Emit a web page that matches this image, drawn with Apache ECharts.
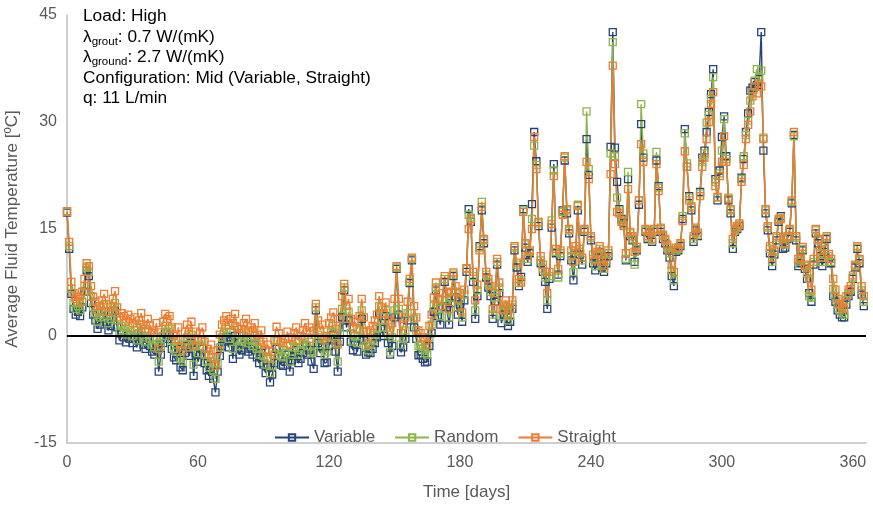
<!DOCTYPE html>
<html>
<head>
<meta charset="utf-8">
<script src="https://cdn.jsdelivr.net/npm/echarts@6/dist/echarts.min.js"></script>
<style>
  html, body { margin: 0; padding: 0; background: #fff; }
  #chart { width: 873px; height: 505px; }
</style>
</head>
<body>
<div id="chart"></div>
<script>
// daily average fluid temperature, day 0..365
const variable = [
  17.3, 12.2, 5.9, 3.8, 3.0, 3.4, 2.8, 4.0, 6.2, 9.2,
  8.4, 4.6, 3.0, 2.2, 1.0, 1.6, 2.4, 3.4, 2.0, 0.8,
  1.4, 2.6, 3.6, 1.2, -0.6, 0.4, -0.2, -0.9, 0.2, -0.4,
  -1.0, -0.2, -1.6, -0.6, 0.6, -1.2, -1.8, -0.4, -1.4, -2.2,
  -2.6, -1.2, -5.0, -2.6, -1.0, 0.4, -0.4, 0.0, -1.8, -3.0,
  -3.4, -1.8, -4.4, -4.8, -2.4, -1.4, -2.8, -1.0, -5.6, -2.4,
  -3.6, -2.6, -1.8, -3.8, -4.8, -5.6, -4.2, -6.0, -7.9, -5.0,
  -2.8, -1.4, -0.8, -0.2, -1.6, -0.6, -3.2, 0.0, -1.8, -2.6,
  -2.0, -1.2, -0.6, -2.2, -1.8, -2.6, -1.2, -3.0, -3.8, -2.4,
  -4.0, -5.2, -4.4, -6.5, -5.4, -3.8, -1.8, -2.8, -4.0, -4.2,
  -3.6, -2.6, -5.0, -3.4, -2.8, -2.0, -3.8, -3.2, -2.4, -1.4,
  -2.6, -2.0, -3.6, -4.6, 3.6, -1.0, -2.4, -1.6, -3.8, -3.7,
  -1.4, -0.6, 0.2, -2.2, -5.0, -0.8, 2.6, 6.4, 1.2, 2.2,
  -0.8, -2.0, -1.2, -2.2, -0.4, 2.4, -0.6, -2.6, -2.3, -2.4,
  -1.8, -1.0, -0.2, 3.2, 1.0, 0.0, 2.8, -1.0, -2.6, -1.4,
  2.6, 9.4, 3.0, -2.3, -1.6, -0.4, 2.2, 7.4, 10.6, 1.2,
  -0.4, -2.7, -2.6, -3.2, -3.7, -3.6, -1.4, 0.4, 3.4, 6.4,
  2.8, 1.6, 4.2, 7.6, 4.0, 1.6, 4.6, 8.4, 5.4, 3.0,
  4.4, 2.0, 5.0, 9.0, 17.8, 16.0, 7.6, 2.4, 5.6, 12.6,
  17.6, 13.0, 8.2, 6.8, 5.6, 2.4, 4.8, 10.0, 6.0, 1.8,
  3.0, 3.6, 1.4, 2.0, 3.8, 12.0, 9.6, 7.0, 8.3, 17.8,
  12.4, 10.4, 11.6, 18.5, 28.6, 24.5, 15.4, 10.2, 9.0, 7.6,
  3.8, 8.0, 15.2, 24.1, 11.6, 8.6, 11.2, 17.6, 24.6, 17.2,
  14.4, 10.6, 7.8, 11.4, 17.6, 11.4, 10.0, 14.6, 27.6, 22.6,
  13.4, 10.2, 9.2, 11.0, 11.8, 9.6, 9.0, 10.2, 11.2, 26.5,
  42.6, 26.4, 21.6, 17.8, 16.4, 15.8, 10.6, 22.0, 14.0, 13.4,
  10.4, 12.0, 18.4, 29.7, 25.0, 14.6, 13.6, 14.4, 13.2, 14.6,
  24.6, 21.0, 14.6, 13.6, 13.0, 12.0, 11.0, 8.4, 7.0, 11.8,
  12.0, 12.6, 16.4, 29.0, 23.7, 19.6, 17.6, 13.2, 14.8, 14.0,
  20.2, 25.0, 26.0, 28.6, 31.4, 33.9, 37.4, 22.0, 19.0, 23.2,
  27.9, 30.8, 25.2, 19.0, 17.2, 12.2, 14.6, 15.0, 15.4, 22.2,
  24.8, 28.6, 31.2, 34.4, 34.8, 35.6, 35.2, 36.0, 42.6, 26.0,
  17.2, 14.8, 11.6, 9.8, 11.4, 13.4, 16.0, 16.8, 12.2, 12.4,
  13.6, 14.6, 18.6, 28.2, 13.4, 9.8, 10.2, 12.0, 9.4, 8.0,
  6.0, 4.8, 10.0, 14.4, 13.0, 11.2, 9.8, 11.8, 13.6, 10.8,
  10.2, 5.6, 4.8, 3.6, 3.0, 2.6, 2.6, 4.4, 5.6, 6.2,
  8.0, 9.6, 12.2, 10.2, 5.8, 4.2
];

const random = [
  17.4, 12.6, 6.6, 4.6, 3.8, 4.2, 3.6, 4.8, 7.0, 9.6,
  9.0, 5.6, 4.0, 3.2, 2.0, 2.6, 3.4, 4.4, 3.0, 1.8,
  2.4, 3.6, 4.6, 2.2, 0.6, 1.4, 0.8, 0.2, 1.2, 0.6,
  0.0, 0.8, -0.6, 0.4, 1.6, -0.2, -0.8, 0.6, -0.4, -1.2,
  -1.6, -0.2, -3.6, -1.4, 0.0, 1.4, 0.6, 1.0, -0.6, -1.8,
  -2.2, -0.6, -3.2, -3.6, -1.2, -0.2, -1.6, 0.2, -4.0, -1.2,
  -2.4, -1.4, -0.6, -2.6, -3.6, -4.4, -3.0, -4.8, -6.0, -3.8,
  -1.6, -0.2, 0.4, 1.0, -0.4, 0.6, -1.8, 1.4, -0.6, -1.4,
  -0.8, 0.0, 0.6, -1.0, -0.6, -1.4, 0.0, -1.8, -2.6, -1.2,
  -2.8, -4.0, -3.2, -5.2, -4.2, -2.6, -0.6, -1.6, -2.8, -3.0,
  -2.4, -1.4, -3.6, -2.2, -1.6, -0.8, -2.6, -2.0, -1.2, -0.2,
  -1.4, -0.8, -2.4, -2.2, 4.0, 0.2, -1.2, -0.4, -2.6, -2.2,
  -0.2, 0.6, 1.4, -1.0, -3.6, 0.4, 3.8, 6.8, 2.4, 3.4,
  0.4, -0.8, 0.0, -1.0, 0.8, 3.6, 0.6, -1.4, -2.0, -1.2,
  -0.6, 0.2, 1.0, 4.2, 2.2, 1.2, 3.6, 0.2, -2.3, -0.2,
  3.6, 9.6, 3.8, -1.2, -0.4, 0.8, 3.2, 7.6, 10.8, 2.4,
  0.8, -1.4, -1.2, -1.8, -2.4, -2.6, -0.2, 1.6, 4.2, 6.8,
  3.8, 2.8, 5.0, 8.0, 5.0, 2.6, 5.4, 8.6, 6.2, 4.0,
  5.2, 2.6, 5.8, 9.4, 17.0, 16.6, 8.4, 3.6, 6.4, 12.4,
  18.8, 13.4, 8.6, 7.4, 6.2, 3.0, 5.4, 10.4, 6.8, 2.8,
  3.6, 4.2, 2.2, 2.8, 4.4, 12.4, 10.0, 7.4, 7.8, 17.6,
  12.8, 10.8, 11.8, 16.4, 26.7, 24.0, 15.8, 10.6, 9.4, 8.2,
  5.0, 8.4, 16.2, 23.2, 11.8, 8.2, 11.6, 17.4, 25.0, 17.6,
  14.8, 11.2, 9.0, 12.0, 18.4, 11.8, 10.6, 14.8, 31.5, 23.4,
  13.8, 10.8, 9.8, 11.4, 12.2, 10.0, 9.4, 10.6, 11.6, 25.6,
  41.2, 25.2, 19.4, 17.6, 16.2, 15.6, 10.8, 23.0, 14.4, 13.6,
  10.0, 12.2, 19.0, 32.5, 25.6, 14.8, 13.8, 14.6, 13.4, 14.8,
  25.8, 20.8, 15.2, 14.0, 13.4, 12.4, 11.6, 9.2, 7.8, 12.0,
  12.2, 12.8, 16.8, 28.4, 24.2, 19.4, 18.2, 13.6, 15.0, 14.2,
  20.0, 24.4, 25.6, 29.9, 31.0, 33.2, 36.3, 21.6, 19.4, 22.8,
  26.0, 30.4, 24.8, 19.4, 17.6, 13.0, 14.8, 15.2, 15.6, 22.0,
  25.2, 28.2, 30.2, 33.0, 34.2, 35.8, 37.4, 36.2, 37.2, 27.8,
  17.6, 15.2, 12.2, 10.4, 11.8, 13.8, 16.2, 16.6, 13.0, 12.8,
  13.8, 14.8, 18.8, 28.0, 13.8, 10.4, 10.6, 12.2, 9.8, 8.8,
  5.6, 5.4, 10.4, 14.8, 13.4, 11.6, 10.4, 12.2, 13.8, 11.2,
  10.4, 6.6, 5.6, 4.4, 3.6, 3.2, 3.0, 5.0, 6.0, 6.6,
  8.2, 9.8, 12.4, 10.6, 6.4, 4.8
];

const straight = [
  17.5, 13.2, 7.6, 6.0, 5.2, 5.5, 4.8, 6.2, 8.0, 10.2,
  9.8, 7.0, 5.5, 4.8, 3.6, 4.2, 5.0, 5.9, 4.5, 3.4,
  4.0, 5.2, 6.3, 4.0, 2.6, 3.2, 2.8, 2.0, 3.0, 2.4,
  1.8, 2.6, 1.2, 2.2, 3.2, 1.6, 1.0, 2.4, 1.5, 0.8,
  0.4, 1.8, -1.8, 0.5, 2.0, 3.1, 2.4, 2.8, 1.2, 0.0,
  -0.4, 1.2, -1.5, -2.0, 0.6, 1.6, 0.2, 2.0, -1.4, 0.6,
  -0.6, 0.4, 1.2, -0.8, -1.8, -2.6, -1.2, -3.0, -4.2, -2.0,
  0.2, 1.6, 2.2, 2.8, 1.5, 2.4, 1.8, 3.1, 1.2, 0.4,
  1.0, 1.8, 2.4, 0.8, 1.2, 0.6, 1.8, 0.2, -0.6, 0.8,
  -0.8, -2.0, -1.2, -3.2, -2.2, -0.6, 1.3, 0.4, -0.8, -1.0,
  -0.4, 0.6, -1.2, -0.2, 0.4, 1.2, -0.6, 0.0, 0.8, 1.8,
  0.6, 1.2, -0.4, 0.7, 4.5, 2.2, 0.8, 1.6, -0.6, 0.0,
  1.8, 2.6, 3.3, 1.0, -1.2, 2.4, 5.6, 7.3, 4.2, 5.2,
  2.4, 1.2, 2.0, 1.0, 2.8, 5.2, 2.6, 0.6, -1.0, 0.8,
  1.4, 2.2, 3.0, 5.6, 4.0, 3.2, 4.7, 2.2, 0.6, 1.8,
  5.2, 9.8, 5.2, 0.4, 1.4, 2.6, 4.8, 8.0, 11.0, 4.2,
  2.6, 0.8, 0.4, -0.2, -0.6, -1.2, 1.4, 3.0, 5.4, 7.5,
  5.2, 4.2, 6.0, 8.4, 6.0, 3.8, 6.2, 8.9, 7.0, 5.2,
  6.0, 3.3, 6.5, 9.5, 15.0, 16.4, 9.0, 5.0, 7.2, 12.0,
  18.1, 13.6, 9.0, 8.0, 7.0, 3.8, 6.0, 10.8, 7.5, 3.8,
  4.4, 5.0, 3.0, 3.8, 5.0, 12.6, 10.3, 8.0, 7.5, 17.4,
  13.0, 11.2, 12.0, 15.0, 27.9, 23.4, 16.0, 11.2, 10.0, 9.0,
  6.0, 9.0, 15.7, 22.4, 12.2, 9.4, 12.0, 17.0, 25.2, 17.8,
  15.0, 12.0, 10.4, 12.6, 18.2, 12.2, 11.0, 15.0, 24.4, 22.0,
  14.0, 11.4, 10.6, 11.8, 12.6, 10.4, 9.8, 11.0, 12.0, 22.7,
  37.9, 24.1, 17.4, 17.2, 16.0, 15.4, 11.6, 20.6, 14.6, 14.0,
  11.8, 12.5, 19.0, 26.9, 24.4, 15.0, 14.0, 14.6, 13.6, 15.0,
  24.1, 20.3, 15.0, 14.2, 13.6, 12.8, 12.0, 10.0, 9.0, 12.4,
  12.4, 13.0, 16.1, 25.9, 23.7, 19.0, 18.0, 14.0, 15.2, 14.5,
  19.6, 23.7, 25.0, 27.6, 30.0, 32.5, 34.2, 21.0, 19.5, 22.4,
  24.4, 28.0, 24.4, 19.2, 17.8, 13.6, 15.0, 15.4, 15.8, 21.6,
  24.0, 27.6, 29.6, 31.5, 33.6, 35.0, 34.0, 35.4, 35.0, 27.6,
  17.8, 15.4, 12.6, 11.0, 12.0, 14.0, 16.4, 16.4, 13.6, 13.0,
  14.0, 15.0, 19.0, 28.6, 14.0, 10.8, 11.0, 12.5, 10.0, 9.5,
  8.0, 6.5, 10.8, 15.0, 13.6, 12.0, 11.0, 12.5, 14.0, 11.5,
  10.8, 8.0, 6.5, 5.2, 4.5, 4.0, 3.8, 5.6, 6.5, 7.0,
  8.5, 10.0, 12.6, 10.8, 7.0, 5.6
];

const seriesNames = ['Variable', 'Random', 'Straight'];
const seriesColors = ['#264478', '#8db54a', '#ed7d31'];
const xTicks = [0, 60, 120, 180, 240, 300, 360];

const chart = echarts.init(document.getElementById('chart'));
const font = '"Liberation Sans", Arial, sans-serif';

function mkSeries(name, values, color, extra) {
  return Object.assign({
    name: name,
    type: 'line',
    data: values.map((v, i) => [i, v]),
    symbol: 'rect',
    symbolSize: 7,
    showSymbol: true,
    itemStyle: { color: 'rgba(255,255,255,0)', borderColor: color, borderWidth: 1.3 },
    lineStyle: { color: color, width: 1.4 },
  }, extra || {});
}

const option = {
  animation: false,
  textStyle: { fontFamily: font },
  grid: { left: 67, right: 7, top: 15, bottom: 62, containLabel: false, outerBoundsMode: 'none' },
  legend: {
    data: seriesNames,
    top: 424,
    left: 269,
    itemWidth: 34,
    itemHeight: 8,
    itemGap: 19,
    textStyle: { fontSize: 17, color: '#595959', fontFamily: font }
  },
  xAxis: {
    type: 'value',
    min: 0,
    max: 366,
    interval: 60,
    name: 'Time [days]',
    nameLocation: 'middle',
    nameGap: 41,
    nameTextStyle: { fontSize: 17, color: '#595959' },
    axisLine: { show: true, onZero: false, lineStyle: { color: '#bfbfbf', width: 1.5 } },
    axisTick: { show: false },
    splitLine: { show: false },
    axisLabel: {
      fontSize: 16, color: '#595959', margin: 12,
      formatter: v => (xTicks.indexOf(v) >= 0 ? String(v) : '')
    }
  },
  yAxis: {
    type: 'value',
    min: -15,
    max: 45,
    interval: 15,
    name: 'Average Fluid Temperature [ºC]',
    nameLocation: 'middle',
    nameGap: 46,
    nameTextStyle: { fontSize: 17, color: '#595959' },
    axisLine: { show: true, onZero: false, lineStyle: { color: '#bfbfbf', width: 1.5 } },
    axisTick: { show: false },
    splitLine: { show: false },
    axisLabel: { fontSize: 16, color: '#595959', margin: 10 }
  },
  graphic: [{
    type: 'text',
    left: 83,
    top: 8,
    style: {
      text: [
        '{n|Load: High}',
        '{n|λ}{s|grout}{n|: 0.7 W/(mK)}',
        '{n|λ}{s|ground}{n|: 2.7 W/(mK)}',
        '{n|Configuration: Mid (Variable, Straight)}',
        '{n|q: 11 L/min}'
      ].join('\n'),
      rich: {
        n: { fontSize: 17.3, fill: '#000', lineHeight: 20.5, fontFamily: font },
        s: { fontSize: 11.5, fill: '#000', lineHeight: 20.5, padding: [9, 0, 0, 0], fontFamily: font }
      }
    }
  }],
  series: [
    mkSeries(seriesNames[0], variable, seriesColors[0], {
      markLine: {
        silent: true,
        symbol: 'none',
        label: { show: false },
        lineStyle: { color: '#000', width: 2, type: 'solid' },
        data: [{ yAxis: 0 }]
      }
    }),
    mkSeries(seriesNames[1], random, seriesColors[1]),
    mkSeries(seriesNames[2], straight, seriesColors[2])
  ]
};

chart.setOption(option);
</script>
</body>
</html>
